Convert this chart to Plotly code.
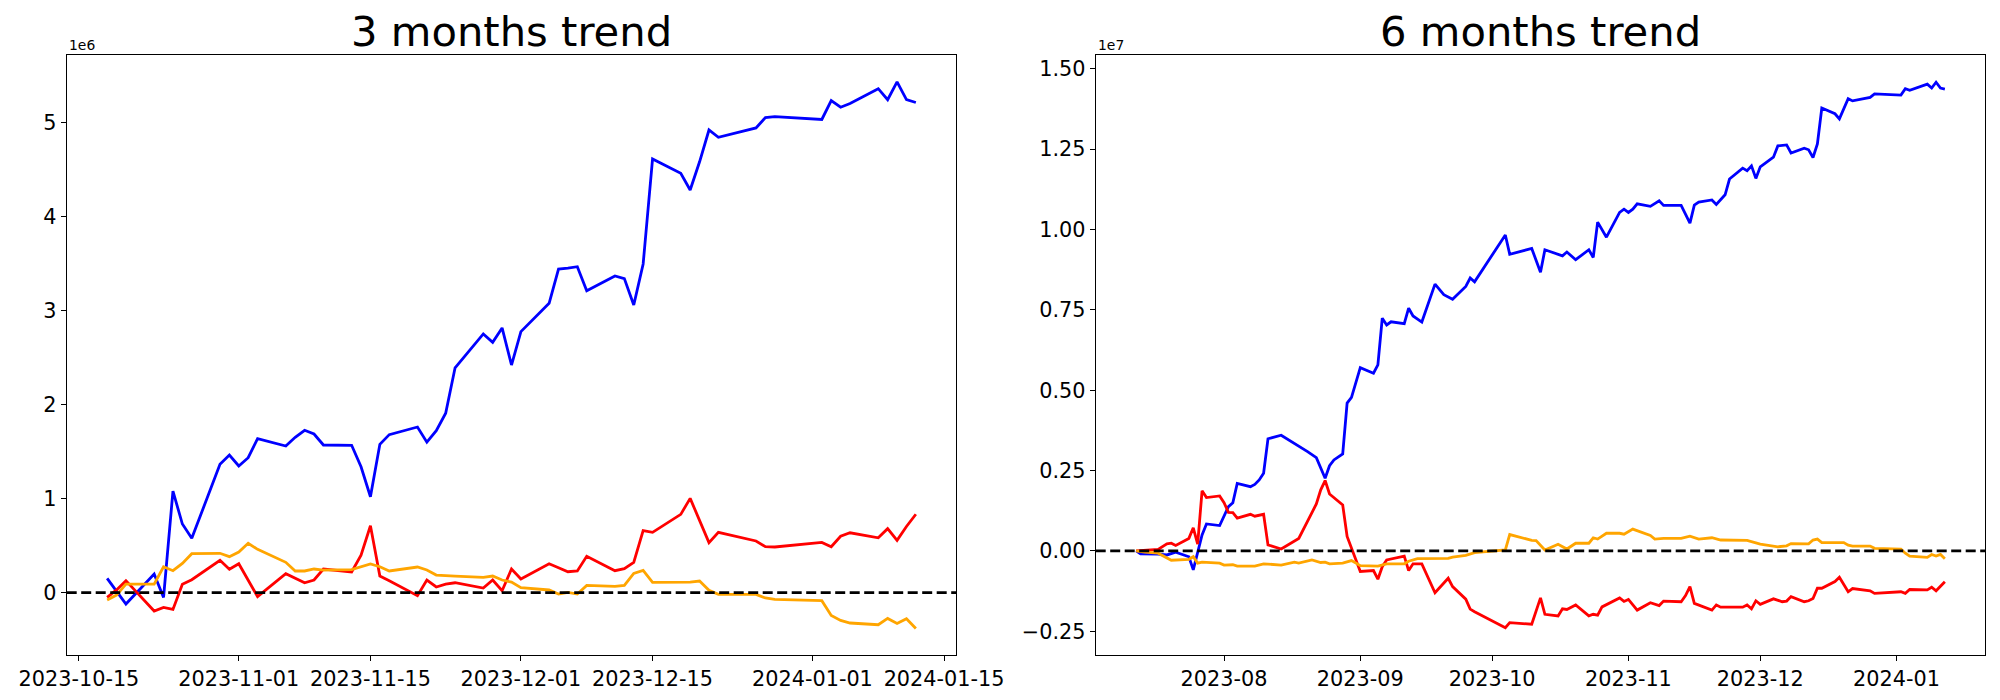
import plotly.graph_objects as go

# ---------------- 3 months data (values in units of 1e6) ----------------
dates_3m = ["2023-10-18", "2023-10-19", "2023-10-20", "2023-10-23", "2023-10-24", "2023-10-25",
            "2023-10-26", "2023-10-27", "2023-10-30", "2023-10-31", "2023-11-01", "2023-11-02",
            "2023-11-03", "2023-11-06", "2023-11-07", "2023-11-08", "2023-11-09", "2023-11-10",
            "2023-11-13", "2023-11-14", "2023-11-15", "2023-11-16", "2023-11-17", "2023-11-20",
            "2023-11-21", "2023-11-22", "2023-11-23", "2023-11-24", "2023-11-27", "2023-11-28",
            "2023-11-29", "2023-11-30", "2023-12-01", "2023-12-04", "2023-12-05", "2023-12-06",
            "2023-12-07", "2023-12-08", "2023-12-11", "2023-12-12", "2023-12-13", "2023-12-14",
            "2023-12-15", "2023-12-18", "2023-12-19", "2023-12-20", "2023-12-21", "2023-12-22",
            "2023-12-26", "2023-12-27", "2023-12-28", "2024-01-02", "2024-01-03", "2024-01-04",
            "2024-01-05", "2024-01-08", "2024-01-09", "2024-01-10", "2024-01-11", "2024-01-12"]
blue_3m = [0.153, 0.02, -0.12, 0.199, -0.05, 1.08, 0.73, 0.578, 1.365, 1.464, 1.347, 1.435,
           1.637, 1.559, 1.652, 1.726, 1.687, 1.57, 1.567, 1.339, 1.02, 1.577, 1.68, 1.761,
           1.60, 1.722, 1.907, 2.39, 2.75, 2.661, 2.814, 2.42, 2.775, 3.076, 3.44, 3.45,
           3.465, 3.21, 3.366, 3.338, 3.058, 3.494, 4.61, 4.458, 4.28, 4.58, 4.918, 4.84,
           4.94, 5.05, 5.06, 5.03, 5.23, 5.16, 5.20, 5.357, 5.24, 5.43, 5.24, 5.21]
red_3m = [-0.05, 0.03, 0.128, -0.195, -0.156, -0.177, 0.089, 0.138, 0.344, 0.249, 0.308, 0.135,
          -0.042, 0.202, 0.153, 0.106, 0.135, 0.252, 0.22, 0.40, 0.712, 0.177, 0.128, -0.032,
          0.135, 0.061, 0.092, 0.106, 0.05, 0.135, 0.021, 0.252, 0.146, 0.308, 0.266, 0.223,
          0.231, 0.387, 0.234, 0.255, 0.323, 0.659, 0.642, 0.833, 1.003, 0.765, 0.532, 0.642,
          0.55, 0.489, 0.486, 0.534, 0.489, 0.60, 0.637, 0.584, 0.681, 0.556, 0.704, 0.834]
orange_3m = [-0.078, -0.025, 0.092, 0.092, 0.276, 0.234, 0.312, 0.415, 0.419, 0.383, 0.433, 0.525,
             0.461, 0.323, 0.231, 0.231, 0.252, 0.241, 0.245, 0.276, 0.305, 0.276, 0.231, 0.273,
             0.241, 0.188, 0.181, 0.177, 0.163, 0.177, 0.135, 0.113, 0.053, 0.029, -0.014, 0.004,
             -0.014, 0.078, 0.068, 0.078, 0.206, 0.238, 0.11, 0.11, 0.113, 0.124, 0.025, -0.018,
             -0.018, -0.056, -0.071, -0.085, -0.241, -0.295, -0.322, -0.34, -0.273, -0.327, -0.277, -0.38]

# ---------------- 6 months data (values in units of 1e7) ----------------
dates_6m_blue = ["2023-07-12", "2023-07-13", "2023-07-17", "2023-07-19", "2023-07-21", "2023-07-24",
                 "2023-07-25", "2023-07-26", "2023-07-27", "2023-07-28", "2023-07-31", "2023-08-02",
                 "2023-08-03", "2023-08-04", "2023-08-07", "2023-08-08", "2023-08-09", "2023-08-10",
                 "2023-08-11", "2023-08-14", "2023-08-17", "2023-08-20", "2023-08-22", "2023-08-23",
                 "2023-08-24", "2023-08-25", "2023-08-26", "2023-08-28", "2023-08-29", "2023-08-30",
                 "2023-08-31", "2023-09-01", "2023-09-04", "2023-09-05", "2023-09-06", "2023-09-07",
                 "2023-09-08", "2023-09-11", "2023-09-12", "2023-09-13", "2023-09-15", "2023-09-18",
                 "2023-09-20", "2023-09-22", "2023-09-25", "2023-09-26", "2023-09-27", "2023-10-04",
                 "2023-10-05", "2023-10-10", "2023-10-12", "2023-10-13", "2023-10-17", "2023-10-18",
                 "2023-10-20", "2023-10-23", "2023-10-24", "2023-10-25", "2023-10-27", "2023-10-30",
                 "2023-10-31", "2023-11-01", "2023-11-02", "2023-11-03", "2023-11-06", "2023-11-08",
                 "2023-11-09", "2023-11-13", "2023-11-15", "2023-11-16", "2023-11-17", "2023-11-20",
                 "2023-11-21", "2023-11-23", "2023-11-24", "2023-11-27", "2023-11-28", "2023-11-29",
                 "2023-11-30", "2023-12-01", "2023-12-04", "2023-12-05", "2023-12-07", "2023-12-08",
                 "2023-12-11", "2023-12-12", "2023-12-13", "2023-12-14", "2023-12-15", "2023-12-18",
                 "2023-12-19", "2023-12-21", "2023-12-22", "2023-12-26", "2023-12-27", "2024-01-02",
                 "2024-01-03", "2024-01-04", "2024-01-08", "2024-01-09", "2024-01-10", "2024-01-11",
                 "2024-01-12"]
blue_6m = [0.0, -0.009, -0.01, -0.0125, -0.004, -0.018, -0.059, -0.002, 0.05, 0.084, 0.079, 0.138,
           0.150, 0.21, 0.20, 0.207, 0.221, 0.242, 0.349, 0.36, 0.335, 0.309, 0.29, 0.26,
           0.226, 0.265, 0.283, 0.302, 0.46, 0.478, 0.527, 0.57, 0.553, 0.579, 0.724, 0.703,
           0.713, 0.707, 0.755, 0.731, 0.712, 0.83, 0.797, 0.783, 0.823, 0.849, 0.837, 0.983,
           0.923, 0.941, 0.867, 0.937, 0.918, 0.93, 0.906, 0.937, 0.913, 1.023, 0.976, 1.053,
           1.063, 1.053, 1.063, 1.08, 1.072, 1.089, 1.075, 1.075, 1.02, 1.076, 1.085, 1.092,
           1.078, 1.108, 1.157, 1.191, 1.183, 1.198, 1.159, 1.195, 1.225, 1.26, 1.263, 1.238,
           1.253, 1.248, 1.224, 1.266, 1.378, 1.36, 1.344, 1.407, 1.40, 1.411, 1.422, 1.418,
           1.438, 1.433, 1.452, 1.44, 1.458, 1.44, 1.437]

dates_6m_red = ["2023-07-12", "2023-07-17", "2023-07-19", "2023-07-20", "2023-07-21", "2023-07-24",
                "2023-07-25", "2023-07-26", "2023-07-27", "2023-07-28", "2023-07-31", "2023-08-01",
                "2023-08-02", "2023-08-03", "2023-08-04", "2023-08-07", "2023-08-08", "2023-08-10",
                "2023-08-11", "2023-08-14", "2023-08-18", "2023-08-21", "2023-08-22", "2023-08-23",
                "2023-08-24", "2023-08-25", "2023-08-28", "2023-08-29", "2023-08-30", "2023-09-01",
                "2023-09-04", "2023-09-05", "2023-09-06", "2023-09-07", "2023-09-11", "2023-09-12",
                "2023-09-13", "2023-09-15", "2023-09-18", "2023-09-21", "2023-09-22", "2023-09-25",
                "2023-09-26", "2023-09-27", "2023-10-04", "2023-10-05", "2023-10-10", "2023-10-11",
                "2023-10-12", "2023-10-13", "2023-10-16", "2023-10-17", "2023-10-18", "2023-10-20",
                "2023-10-23", "2023-10-24", "2023-10-25", "2023-10-26", "2023-10-30", "2023-10-31",
                "2023-11-01", "2023-11-03", "2023-11-06", "2023-11-08", "2023-11-09", "2023-11-13",
                "2023-11-14", "2023-11-15", "2023-11-16", "2023-11-20", "2023-11-21", "2023-11-22",
                "2023-11-27", "2023-11-28", "2023-11-29", "2023-11-30", "2023-12-01", "2023-12-04",
                "2023-12-06", "2023-12-07", "2023-12-08", "2023-12-11", "2023-12-12", "2023-12-13",
                "2023-12-14", "2023-12-15", "2023-12-18", "2023-12-19", "2023-12-21", "2023-12-22",
                "2023-12-26", "2023-12-27", "2024-01-02", "2024-01-03", "2024-01-04", "2024-01-08",
                "2024-01-09", "2024-01-10", "2024-01-11", "2024-01-12"]
red_6m = [0.0, 0.005, 0.022, 0.024, 0.017, 0.039, 0.072, 0.021, 0.187, 0.166, 0.171, 0.15,
          0.12, 0.119, 0.102, 0.114, 0.108, 0.114, 0.019, 0.006, 0.039, 0.117, 0.146, 0.19,
          0.219, 0.177, 0.143, 0.045, 0.008, -0.064, -0.061, -0.088, -0.049, -0.028, -0.016, -0.061,
          -0.04, -0.04, -0.13, -0.085, -0.111, -0.15, -0.181, -0.189, -0.239, -0.223, -0.228, -0.189,
          -0.146, -0.197, -0.202, -0.18, -0.182, -0.168, -0.202, -0.197, -0.2, -0.174, -0.146, -0.157,
          -0.151, -0.184, -0.161, -0.17, -0.156, -0.158, -0.139, -0.111, -0.163, -0.184, -0.168, -0.175,
          -0.175, -0.168, -0.18, -0.155, -0.166, -0.149, -0.158, -0.156, -0.142, -0.158, -0.155, -0.148,
          -0.116, -0.116, -0.095, -0.082, -0.127, -0.117, -0.124, -0.132, -0.127, -0.132, -0.12, -0.121,
          -0.113, -0.124, -0.111, -0.096]

dates_6m_orange = ["2023-07-12", "2023-07-14", "2023-07-17", "2023-07-19", "2023-07-20", "2023-07-24",
                   "2023-07-25", "2023-07-26", "2023-07-27", "2023-07-31", "2023-08-01", "2023-08-03",
                   "2023-08-04", "2023-08-08", "2023-08-10", "2023-08-14", "2023-08-17", "2023-08-18",
                   "2023-08-21", "2023-08-23", "2023-08-24", "2023-08-25", "2023-08-28", "2023-08-30",
                   "2023-09-01", "2023-09-05", "2023-09-07", "2023-09-11", "2023-09-12", "2023-09-14",
                   "2023-09-21", "2023-09-22", "2023-09-25", "2023-09-27", "2023-10-02", "2023-10-04",
                   "2023-10-05", "2023-10-10", "2023-10-11", "2023-10-13", "2023-10-16", "2023-10-18",
                   "2023-10-20", "2023-10-23", "2023-10-24", "2023-10-25", "2023-10-27", "2023-10-30",
                   "2023-10-31", "2023-11-02", "2023-11-06", "2023-11-07", "2023-11-09", "2023-11-13",
                   "2023-11-15", "2023-11-17", "2023-11-20", "2023-11-22", "2023-11-28", "2023-12-01",
                   "2023-12-05", "2023-12-07", "2023-12-08", "2023-12-12", "2023-12-13", "2023-12-14",
                   "2023-12-15", "2023-12-20", "2023-12-21", "2023-12-22", "2023-12-26", "2023-12-27",
                   "2024-01-02", "2024-01-03", "2024-01-04", "2024-01-08", "2024-01-09", "2024-01-10",
                   "2024-01-11", "2024-01-12"]
orange_6m = [0.0, -0.004, -0.007, -0.023, -0.029, -0.026, -0.018, -0.038, -0.035, -0.038, -0.044, -0.043,
             -0.047, -0.047, -0.04, -0.044, -0.035, -0.038, -0.028, -0.036, -0.035, -0.04, -0.038, -0.030,
             -0.046, -0.047, -0.04, -0.04, -0.032, -0.024, -0.023, -0.019, -0.014, -0.005, 0.001, 0.003,
             0.051, 0.033, 0.032, 0.003, 0.021, 0.006, 0.024, 0.024, 0.041, 0.037, 0.055, 0.055,
             0.052, 0.068, 0.048, 0.037, 0.039, 0.039, 0.046, 0.037, 0.041, 0.034, 0.033, 0.021,
             0.013, 0.016, 0.023, 0.022, 0.034, 0.037, 0.026, 0.026, 0.018, 0.015, 0.015, 0.008,
             0.006, -0.007, -0.016, -0.02, -0.011, -0.016, -0.011, -0.024]

SCALE_3M = 1e6
SCALE_6M = 1e7

xticks_3m = ["2023-10-15", "2023-11-01", "2023-11-15", "2023-12-01", "2023-12-15", "2024-01-01", "2024-01-15"]
xticks_6m = ["2023-08-01", "2023-09-01", "2023-10-01", "2023-11-01", "2023-12-01", "2024-01-01"]
xtick_text_6m = ["2023-08", "2023-09", "2023-10", "2023-11", "2023-12", "2024-01"]
yticks_3m = [0, 1, 2, 3, 4, 5]
yticks_6m = [-0.25, 0.0, 0.25, 0.5, 0.75, 1.0, 1.25, 1.5]

W, H = 2000, 700
FONT = "DejaVu Sans"
TICK_SIZE = 20.8
LW = 2.8
PAGE_OFFSET = 8  # default body margin of the html page

# axes boxes in screen pixels (left, right, top, bottom)
L1, R1 = 66.7, 956.3
L2, R2 = 1095.7, 1985.3
TOP, BOT = 55.0, 655.0


def fx(px):
    return (px - PAGE_OFFSET) / W


def fy(py):
    return 1 - (py - PAGE_OFFSET) / H


fig = go.Figure()

series_3m = [(blue_3m, "blue"), (red_3m, "red"), (orange_3m, "orange")]
for vals, col in series_3m:
    fig.add_trace(go.Scatter(x=dates_3m, y=[v * SCALE_3M for v in vals], mode="lines",
                             line=dict(color=col, width=LW), xaxis="x", yaxis="y",
                             showlegend=False))

series_6m = [(dates_6m_blue, blue_6m, "blue"), (dates_6m_red, red_6m, "red"),
             (dates_6m_orange, orange_6m, "orange")]
for d, vals, col in series_6m:
    fig.add_trace(go.Scatter(x=d, y=[v * SCALE_6M for v in vals], mode="lines",
                             line=dict(color=col, width=LW), xaxis="x2", yaxis="y2",
                             showlegend=False))

axis_common = dict(showgrid=False, zeroline=False, showline=True, linecolor="black",
                   linewidth=1.1, mirror=True, ticks="outside", ticklen=5, tickwidth=1.1,
                   tickcolor="black", automargin=False,
                   tickfont=dict(family=FONT, size=TICK_SIZE, color="black"))

fig.update_layout(
    width=W, height=H,
    margin=dict(l=0, r=0, t=0, b=0, autoexpand=False),
    paper_bgcolor="white", plot_bgcolor="white",
    font=dict(family=FONT, color="black"),
    xaxis=dict(axis_common, domain=[fx(L1), fx(R1)], type="date",
               range=["2023-10-13 16:48", "2024-01-16 07:12"],
               tickmode="array", tickvals=xticks_3m, ticktext=xticks_3m, anchor="y"),
    yaxis=dict(axis_common, domain=[fy(BOT), fy(TOP)], range=[-0.662e6, 5.715e6],
               tickmode="array", tickvals=[t * SCALE_3M for t in yticks_3m],
               ticktext=[str(t) for t in yticks_3m], anchor="x"),
    xaxis2=dict(axis_common, domain=[fx(L2), fx(R2)], type="date",
                range=["2023-07-02 19:12", "2024-01-21 04:48"],
                tickmode="array", tickvals=xticks_6m, ticktext=xtick_text_6m, anchor="y2"),
    yaxis2=dict(axis_common, domain=[fy(BOT), fy(TOP)], range=[-0.3237e7, 1.5428e7],
                tickmode="array", tickvals=[t * SCALE_6M for t in yticks_6m],
                ticktext=[("−" if t < 0 else "") + f"{abs(t):.2f}" for t in yticks_6m],
                anchor="x2"),
)

# dashed zero lines
for xr, yr in (("x domain", "y"), ("x2 domain", "y2")):
    fig.add_shape(type="line", xref=xr, yref=yr, x0=0, x1=1, y0=0, y1=0,
                  line=dict(color="black", width=2.8, dash="10px,4.5px"), layer="above")

# titles
for title, l, r in (("3 months trend", L1, R1), ("6 months trend", L2, R2)):
    fig.add_annotation(text=title, xref="paper", yref="paper", x=fx((l + r) / 2), y=fy(TOP),
                       xanchor="center", yanchor="bottom", yshift=-2, borderpad=0,
                       showarrow=False, font=dict(family=FONT, size=41.7, color="black"))

# offset texts
for txt, l in (("1e6", L1), ("1e7", L2)):
    fig.add_annotation(text=txt, xref="paper", yref="paper", x=fx(l), y=fy(TOP),
                       xanchor="left", yanchor="bottom", yshift=0, showarrow=False,
                       font=dict(family=FONT, size=13.9, color="black"))

fig.write_html("out.html")
